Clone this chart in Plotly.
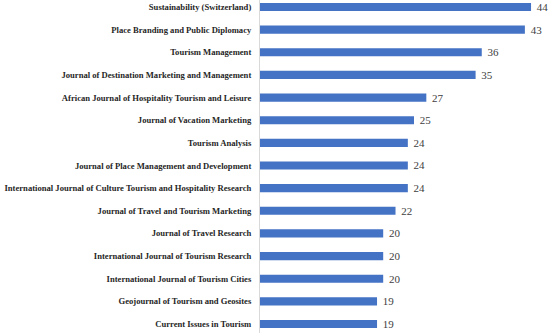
import plotly.graph_objects as go

journals = [
    "Sustainability (Switzerland)",
    "Place Branding and Public Diplomacy",
    "Tourism Management",
    "Journal of Destination Marketing and Management",
    "African Journal of Hospitality Tourism and Leisure",
    "Journal of Vacation Marketing",
    "Tourism Analysis",
    "Journal of Place Management and Development",
    "International Journal of Culture Tourism and Hospitality Research",
    "Journal of Travel and Tourism Marketing",
    "Journal of Travel Research",
    "International Journal of Tourism Research",
    "International Journal of Tourism Cities",
    "Geojournal of Tourism and Geosites",
    "Current Issues in Tourism",
]
counts = [44, 43, 36, 35, 27, 25, 24, 24, 24, 22, 20, 20, 20, 19, 19]

cats = journals[::-1]
vals = counts[::-1]

fig = go.Figure(go.Bar(
    x=vals, y=cats, orientation="h",
    marker=dict(color="#4472C4", line=dict(width=0)),
    width=0.36,
    text=["\u00a0" + str(v) for v in vals],
    textposition="outside",
    constraintext="none",
    textfont=dict(family="Liberation Serif", size=11, color="#404040"),
    cliponaxis=False,
))

fig.update_layout(
    width=550, height=333,
    margin=dict(l=260, r=0, t=0, b=0, autoexpand=False),
    paper_bgcolor="white", plot_bgcolor="white",
    showlegend=False,
    xaxis=dict(range=[0, 290 / 6.16], visible=False, showgrid=False, zeroline=False, automargin=False),
    yaxis=dict(
        type="category", categoryorder="array", categoryarray=cats,
        range=[-0.398, 14.309], automargin=False,
        showgrid=False, zeroline=False,
        showline=True, linecolor="#d9d9d9", linewidth=1,
        ticks="", ticklabelstandoff=6,
        tickfont=dict(family="Liberation Serif", size=8.6, color="#262626", weight="bold"),
    ),
)

fig.write_html("out.html", config={"displayModeBar": False},
               post_script="document.body.style.margin='0';")
